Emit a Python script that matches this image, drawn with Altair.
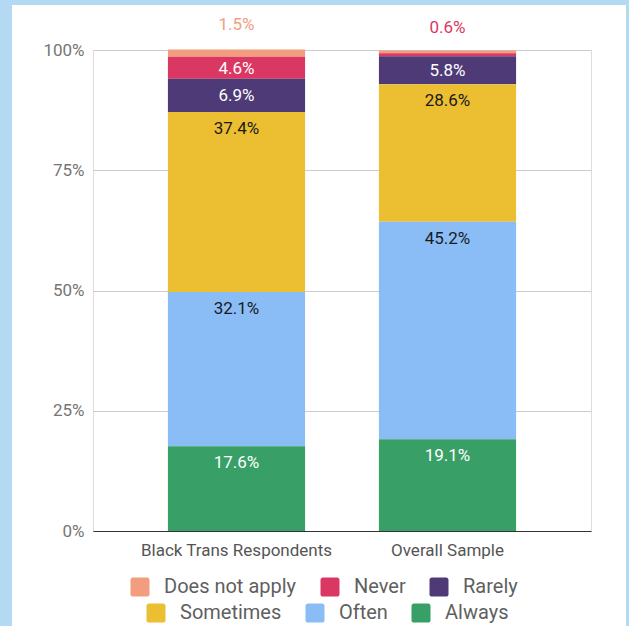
import altair as alt
import pandas as pd

groups = ["Black Trans Respondents", "Overall Sample"]
categories = ["Does not apply", "Never", "Rarely", "Sometimes", "Often", "Always"]
colors = ["#F29E7E", "#DA3762", "#4F3A78", "#ECBE31", "#8ABDF6", "#389F66"]
black_trans = [1.5, 4.6, 6.9, 37.4, 32.1, 17.6]
overall = [0.6, 0.6, 5.8, 28.6, 45.2, 19.1]
# segment labels that the original chart does not print
hidden = [("Overall Sample", "Does not apply")]
white_text = ["Always", "Rarely", "Never"]
legend_row1 = categories[:3]
legend_row2 = categories[3:]

rows = []
for g, vals in zip(groups, [black_trans, overall]):
    for i, (cat, v) in enumerate(zip(categories, vals)):
        rows.append({
            "group": g,
            "category": cat,
            "value": v,
            "order": len(categories) - 1 - i,
            "show": (g, cat) not in hidden,
            "white": cat in white_text,
        })
df = pd.DataFrame(rows)

FONT = "Roboto"
FRAME = "#B3DAF2"

base = alt.Chart(df).transform_stack(
    stack="value", groupby=["group"],
    sort=[alt.SortField("order", order="ascending")], as_=["v0", "v1"]
).transform_calculate(label="format(datum.value, '.1f') + '%'")

x_enc = alt.X("group:N", sort=groups,
              scale=alt.Scale(paddingInner=0.35, paddingOuter=0.355),
              axis=alt.Axis(title=None, labelAngle=0, domain=True, domainColor="#333333",
                            domainWidth=1, ticks=False, labelPadding=11, labelFontSize=17,
                            labelColor="#555555", labelFont=FONT, grid=False, labelLimit=0))

symbol_path = ("M -0.75,-1 H 0.75 A 0.25 0.25 0 0 1 1 -0.75 V 0.75 A 0.25 0.25 0 0 1 0.75 1 "
               "H -0.75 A 0.25 0.25 0 0 1 -1 0.75 V -0.75 A 0.25 0.25 0 0 1 -0.75 -1 Z")

color_scale = alt.Scale(domain=categories, range=colors)


def make_legend(values, lx, ly):
    return alt.Legend(title=None, orient="none", legendX=lx, legendY=ly,
                      direction="horizontal", values=values,
                      symbolType=symbol_path, symbolSize=361,
                      symbolStrokeWidth=0, symbolOpacity=1,
                      labelFontSize=20, labelFont=FONT, labelColor="#5F5F5F",
                      labelOffset=14, columnPadding=23, padding=0, labelLimit=0)


bars = base.mark_bar().encode(
    x=x_enc,
    y=alt.Y("v0:Q", scale=alt.Scale(domain=[0, 100], nice=False),
            axis=alt.Axis(values=[0, 25, 50, 75, 100], labelExpr="datum.value + '%'",
                          title=None, domain=False, ticks=False, labelPadding=9,
                          labelFontSize=17, labelColor="#757575", labelFont=FONT,
                          grid=True, gridColor="#CCCCCC", gridWidth=1)),
    y2="v1:Q",
    color=alt.Color("category:N", scale=color_scale,
                    legend=make_legend(legend_row1, 37, 527)),
)

# invisible copy of the bars that carries the second legend row
bars_row2 = base.mark_bar(opacity=0).encode(
    x=alt.X("group:N", sort=groups), y="v0:Q", y2="v1:Q",
    fill=alt.Fill("category:N", scale=color_scale,
                  legend=make_legend(legend_row2, 53, 553)),
)

inside = base.transform_filter("datum.value >= 2").transform_calculate(
    ly="max(datum.v1 - 3.33, (datum.v0 + datum.v1) / 2)")

text_white = inside.transform_filter("datum.white").mark_text(
    baseline="middle", fontSize=17, font=FONT, color="white", dy=1).encode(
    x=alt.X("group:N", sort=groups), y="ly:Q", text="label:N")
text_dark = inside.transform_filter("!datum.white").mark_text(
    baseline="middle", fontSize=17, font=FONT, color="#1A1A1A", dy=1).encode(
    x=alt.X("group:N", sort=groups), y="ly:Q", text="label:N")

outside = base.transform_filter("datum.value < 2 && datum.show").mark_text(
    baseline="middle", fontSize=17, font=FONT, dy=-25).encode(
    x=alt.X("group:N", sort=groups), y="v1:Q", text="label:N",
    color=alt.Color("category:N", scale=color_scale, legend=None))

one = alt.Data(values=[{"a": 1}])
left_strip = alt.Chart(one).mark_rect(color=FRAME).encode(
    x=alt.value(-93), x2=alt.value(-81), y=alt.value(-50), y2=alt.value(576))
top_strip = alt.Chart(one).mark_rect(color=FRAME).encode(
    x=alt.value(-93), x2=alt.value(536), y=alt.value(-50), y2=alt.value(-45))
right_strip = alt.Chart(one).mark_rect(color=FRAME).encode(
    x=alt.value(533), x2=alt.value(536), y=alt.value(-50), y2=alt.value(576))

chart = alt.layer(bars, bars_row2, text_white, text_dark, outside,
                  left_strip, top_strip, right_strip).resolve_legend(
    color="independent", fill="independent"
).properties(
    width=498, height=481,
    autosize=alt.AutoSizeParams(type="none"),
    padding={"left": 93, "top": 50, "right": 38, "bottom": 95},
    background="white",
).configure_view(stroke=None).configure(font=FONT)

chart.save("out.html", embed_options={"renderer": "svg", "actions": False})
